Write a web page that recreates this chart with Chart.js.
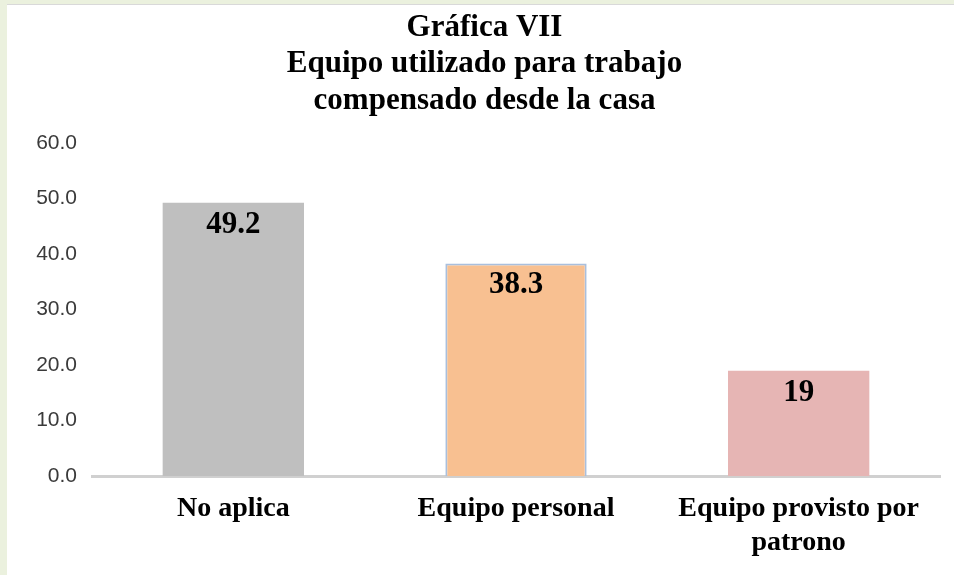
<!DOCTYPE html>
<html>
<head>
<meta charset="utf-8">
<script src="https://cdn.jsdelivr.net/npm/chart.js@4.4.1/dist/chart.umd.min.js"></script>
<style>
  html, body { margin: 0; padding: 0; background: #ebf1de; }
  #frame {
    position: absolute; left: 7px; top: 4px; width: 947px; height: 571px;
    background: #ffffff; border-top: 1px solid #d9d9d9;
  }
  #chart { display: block; }
</style>
</head>
<body>
<div id="frame"><canvas id="chart" width="947" height="570"></canvas></div>
<script>
const titleLines = ["Gráfica VII", "Equipo utilizado para trabajo", "compensado desde la casa"];
const categories = [["No aplica"], ["Equipo personal"], ["Equipo provisto por", "patrono"]];
const values = [49.2, 38.3, 19];
const valueLabels = ["49.2", "38.3", "19"];
const barColors = ["#bfbfbf", "#f8c091", "#e6b5b4"];
const barBorders = ["#bfbfbf", "#a9bfdd", "#e6b5b4"];

const serif = "'Liberation Serif', 'Times New Roman', serif";

// value labels inside the top of each bar
const barLabels = {
    id: "barLabels",
    afterDatasetsDraw(chart) {
        const ctx = chart.ctx;
        const meta = chart.getDatasetMeta(0);
        ctx.save();
        ctx.font = "bold 31px " + serif;
        ctx.fillStyle = "#000000";
        ctx.textAlign = "center";
        ctx.textBaseline = "middle";
        meta.data.forEach((bar, i) => {
            ctx.fillText(valueLabels[i], bar.x, bar.y + 22);
        });
        ctx.restore();
    },
};

new Chart(document.getElementById("chart"), {
    type: "bar",
    data: {
        labels: categories,
        datasets: [{
            data: values,
            backgroundColor: barColors,
            borderColor: barBorders,
            borderWidth: [0, 2, 0],
            borderSkipped: "bottom",
            categoryPercentage: 1,
            barPercentage: 0.5,
        }],
    },
    options: {
        responsive: false,
        animation: false,
        layout: { padding: { top: 0, right: 14, bottom: -1, left: 22 } },
        plugins: {
            legend: { display: false },
            tooltip: { enabled: false },
            title: {
                display: true,
                text: titleLines,
                color: "#000000",
                font: { family: serif, size: 31, weight: "bold", lineHeight: 1.17 },
                padding: { top: 5, bottom: 24 },
            },
        },
        scales: {
            x: {
                grid: { display: false, drawTicks: false },
                border: { display: true, color: "#d0d0d0", width: 3 },
                ticks: {
                    color: "#000000",
                    font: { family: serif, size: 28, weight: "bold", lineHeight: 1.21 },
                    padding: 16,
                    maxRotation: 0,
                },
            },
            y: {
                min: 0,
                max: 60,
                grid: { display: false, drawTicks: false },
                border: { display: false },
                afterFit(scale) { scale.width = 63; },
                ticks: {
                    stepSize: 10,
                    padding: 15,
                    color: "#3a3a3a",
                    font: { family: "'Liberation Sans', Arial, sans-serif", size: 21 },
                    callback: (v) => v.toFixed(1),
                },
            },
        },
    },
    plugins: [barLabels],
});
</script>
</body>
</html>
